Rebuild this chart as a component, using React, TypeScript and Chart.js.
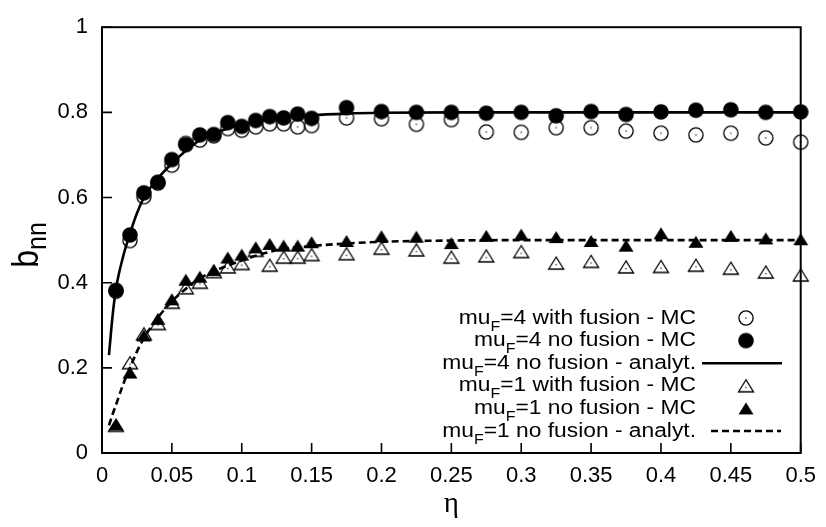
import React, { useEffect, useRef } from 'react';
import { Chart, registerables } from 'chart.js';

Chart.register(...registerables);

const FONT = '"Liberation Sans", Arial, sans-serif';

const xTickValues = [0, 0.05, 0.1, 0.15, 0.2, 0.25, 0.3, 0.35, 0.4, 0.45, 0.5];
const xTickLabels = ['0', '0.05', '0.1', '0.15', '0.2', '0.25', '0.3', '0.35', '0.4', '0.45', '0.5'];
const yTickValues = [0, 0.2, 0.4, 0.6, 0.8, 1];
const yTickLabels = ['0', '0.2', '0.4', '0.6', '0.8', '1'];

const xTitle = 'η';
const yTitleMain = 'b';
const yTitleSub = 'nn';

// Monte Carlo eta values
const etaMC = [0.01, 0.02, 0.03, 0.04, 0.05, 0.06, 0.07, 0.08, 0.09, 0.1, 0.11, 0.12, 0.13, 0.14, 0.15,
  0.175, 0.2, 0.225, 0.25, 0.275, 0.3, 0.325, 0.35, 0.375, 0.4, 0.425, 0.45, 0.475, 0.5];

const mu4FusionMC = [0.38, 0.499, 0.602, 0.634, 0.676, 0.727, 0.735, 0.745, 0.762, 0.758, 0.766, 0.773, 0.773, 0.766, 0.769,
  0.787, 0.785, 0.772, 0.783, 0.754, 0.753, 0.764, 0.764, 0.756, 0.751, 0.747, 0.751, 0.74, 0.73];

const mu4NoFusionMC = [0.382, 0.512, 0.611, 0.636, 0.689, 0.724, 0.747, 0.748, 0.776, 0.767, 0.781, 0.79, 0.787, 0.796, 0.786,
  0.811, 0.802, 0.8, 0.8, 0.798, 0.8, 0.792, 0.802, 0.795, 0.801, 0.805, 0.806, 0.8, 0.801];

const mu1FusionMC = [0.065, 0.212, 0.28, 0.304, 0.354, 0.388, 0.401, 0.426, 0.437, 0.445, 0.476, 0.441, 0.46, 0.46, 0.466,
  0.468, 0.481, 0.477, 0.46, 0.463, 0.473, 0.446, 0.45, 0.437, 0.438, 0.441, 0.434, 0.425, 0.418];

const mu1NoFusionMC = [0.067, 0.189, 0.276, 0.315, 0.361, 0.407, 0.414, 0.43, 0.459, 0.466, 0.483, 0.491, 0.487, 0.487, 0.495,
  0.498, 0.509, 0.508, 0.493, 0.51, 0.513, 0.507, 0.498, 0.487, 0.516, 0.496, 0.51, 0.504, 0.502];

// Analytic curves
const etaAnalyt4 = [0.005, 0.0075, 0.01, 0.015, 0.02, 0.025, 0.03, 0.04, 0.05, 0.06, 0.07, 0.08, 0.09, 0.1, 0.12, 0.15, 0.175, 0.2, 0.25, 0.3, 0.4, 0.5];
const mu4Analyt = [0.23, 0.32, 0.385, 0.46, 0.515, 0.563, 0.6, 0.645, 0.68, 0.71, 0.735, 0.75, 0.762, 0.772, 0.784, 0.793, 0.797, 0.799, 0.8, 0.8, 0.8, 0.8];

const etaAnalyt1 = [0.005, 0.0075, 0.01, 0.015, 0.02, 0.025, 0.03, 0.04, 0.05, 0.06, 0.07, 0.08, 0.09, 0.1, 0.11, 0.125, 0.15, 0.175, 0.2, 0.25, 0.3, 0.4, 0.5];
const mu1Analyt = [0.065, 0.09, 0.113, 0.16, 0.2, 0.238, 0.27, 0.318, 0.356, 0.386, 0.41, 0.427, 0.44, 0.452, 0.463, 0.476, 0.486, 0.492, 0.496, 0.499, 0.5, 0.5, 0.5];

const legendLabels = [
  'mu_F=4 with fusion - MC',
  'mu_F=4 no fusion - MC',
  'mu_F=4 no fusion - analyt.',
  'mu_F=1 with fusion - MC',
  'mu_F=1 no fusion - MC',
  'mu_F=1 no fusion - analyt.',
];

type MarkerKind = 'openCircle' | 'filledCircle' | 'openTriangle' | 'filledTriangle';

function makeMarker(kind: MarkerKind): HTMLCanvasElement {
  const c = document.createElement('canvas');
  c.width = 20;
  c.height = 20;
  const g = c.getContext('2d')!;
  g.strokeStyle = '#000';
  g.fillStyle = '#000';
  g.lineWidth = 1.3;
  const cx = 10, cy = 10;
  if (kind === 'openCircle' || kind === 'filledCircle') {
    g.beginPath();
    if (kind === 'filledCircle') {
      g.arc(cx, cy, 7.8, 0, Math.PI * 2);
      g.fill();
    } else {
      g.arc(cx, cy, 7.1, 0, Math.PI * 2);
      g.stroke();
      g.fillRect(cx - 0.6, cy - 0.6, 1.2, 1.2);
    }
  } else {
    g.beginPath();
    g.moveTo(cx, cy - 6);
    g.lineTo(cx - 7.5, cy + 6);
    g.lineTo(cx + 7.5, cy + 6);
    g.closePath();
    if (kind === 'filledTriangle') {
      g.fill();
    } else {
      g.stroke();
      g.fillRect(cx - 0.6, cy + 1, 1.2, 1.2);
    }
  }
  return c;
}

function toPoints(xs: number[], ys: number[]) {
  return xs.map((x, i) => ({ x, y: ys[i] }));
}

export default function App() {
  const ref = useRef<HTMLCanvasElement | null>(null);

  useEffect(() => {
    const canvas = ref.current;
    if (!canvas) return;
    const markers = {
      openCircle: makeMarker('openCircle'),
      filledCircle: makeMarker('filledCircle'),
      openTriangle: makeMarker('openTriangle'),
      filledTriangle: makeMarker('filledTriangle'),
    };

    const framePlugin = {
      id: 'frame',
      beforeDraw(chart: any) {
        const ctx = chart.ctx;
        ctx.save();
        ctx.fillStyle = '#fff';
        ctx.fillRect(0, 0, chart.width, chart.height);
        ctx.restore();
      },
      beforeDatasetsDraw(chart: any) {
        const ctx = chart.ctx;
        const { left, right, top, bottom } = chart.chartArea;
        const xs = chart.scales.x;
        const ys = chart.scales.y;
        ctx.save();
        ctx.strokeStyle = '#000';
        ctx.lineWidth = 1.6;
        ctx.beginPath();
        xTickValues.forEach((v) => {
          const px = xs.getPixelForValue(v);
          ctx.moveTo(px, bottom);
          ctx.lineTo(px, bottom - 10);
        });
        yTickValues.forEach((v) => {
          const py = ys.getPixelForValue(v);
          ctx.moveTo(left, py);
          ctx.lineTo(left + 10, py);
        });
        ctx.stroke();
        ctx.lineWidth = 2;
        ctx.strokeRect(left, top, right - left, bottom - top);
        ctx.restore();
      },
      afterDraw(chart: any) {
        const ctx = chart.ctx;
        const { left, right } = chart.chartArea;
        const SX = 1.14; // horizontal stretch of the reference lettering
        ctx.save();
        ctx.fillStyle = '#000';
        // x title
        ctx.font = '29px "Liberation Serif", serif';
        ctx.textAlign = 'center';
        ctx.textBaseline = 'alphabetic';
        ctx.fillText(xTitle, (left + right) / 2, 512);
        // y title
        ctx.save();
        ctx.translate(38, 245);
        ctx.scale(SX, 1);
        ctx.rotate(-Math.PI / 2);
        ctx.font = `32px ${FONT}`;
        const wb = ctx.measureText(yTitleMain).width;
        ctx.font = `25px ${FONT}`;
        const wn = ctx.measureText(yTitleSub).width;
        const start = -(wb + wn) / 2;
        ctx.textAlign = 'left';
        ctx.font = `32px ${FONT}`;
        ctx.fillText(yTitleMain, start, 0);
        ctx.font = `25px ${FONT}`;
        ctx.fillText(yTitleSub, start + wb, 7);
        ctx.restore();

        // legend
        const rightX = 696;
        const symX = 746;
        const base0 = 323.5;
        const step = 22.6;
        const mainFont = `20px ${FONT}`;
        const subFont = `14px ${FONT}`;
        legendLabels.forEach((lab, i) => {
          const [pre, post] = lab.split('_F');
          const by = base0 + i * step;
          ctx.font = mainFont;
          const wPre = ctx.measureText(pre).width;
          const wPost = ctx.measureText(post).width;
          ctx.font = subFont;
          const wSub = ctx.measureText('F').width;
          const total = (wPre + wSub + wPost) * SX;
          ctx.save();
          ctx.translate(rightX - total, by);
          ctx.scale(SX, 1);
          ctx.textAlign = 'left';
          ctx.textBaseline = 'alphabetic';
          ctx.font = mainFont;
          ctx.fillText(pre, 0, 0);
          ctx.font = subFont;
          ctx.fillText('F', wPre, 7);
          ctx.font = mainFont;
          ctx.fillText(post, wPre + wSub, 0);
          ctx.restore();
          const cy = by - 5.5;
          const ds = chart.data.datasets[i];
          if (ds.showLine) {
            const dashed = (ds.borderDash || []).length > 0;
            ctx.save();
            ctx.strokeStyle = '#000';
            ctx.lineWidth = ds.borderWidth;
            ctx.setLineDash(ds.borderDash || []);
            ctx.beginPath();
            ctx.moveTo(dashed ? 711 : 702, cy);
            ctx.lineTo(dashed ? 781 : 782, cy);
            ctx.stroke();
            ctx.restore();
          } else {
            const img = ds.pointStyle as HTMLCanvasElement;
            ctx.drawImage(img, symX - img.width / 2, cy - img.height / 2);
          }
        });
        ctx.restore();
      },
    };

    const chart = new Chart(canvas, {
      type: 'scatter',
      data: {
        datasets: [
          {
            label: legendLabels[0],
            data: toPoints(etaMC, mu4FusionMC),
            pointStyle: markers.openCircle,
            pointRadius: 7,
            showLine: false,
            clip: false,
            order: 5,
          },
          {
            label: legendLabels[1],
            data: toPoints(etaMC, mu4NoFusionMC),
            pointStyle: markers.filledCircle,
            pointRadius: 7,
            showLine: false,
            clip: false,
            order: 4,
          },
          {
            label: legendLabels[2],
            data: toPoints(etaAnalyt4, mu4Analyt),
            showLine: true,
            borderColor: '#000',
            borderWidth: 2.6,
            pointRadius: 0,
            cubicInterpolationMode: 'monotone',
            fill: false,
            order: 1,
          },
          {
            label: legendLabels[3],
            data: toPoints(etaMC, mu1FusionMC),
            pointStyle: markers.openTriangle,
            pointRadius: 7,
            showLine: false,
            clip: false,
            order: 3,
          },
          {
            label: legendLabels[4],
            data: toPoints(etaMC, mu1NoFusionMC),
            pointStyle: markers.filledTriangle,
            pointRadius: 7,
            showLine: false,
            clip: false,
            order: 2,
          },
          {
            label: legendLabels[5],
            data: toPoints(etaAnalyt1, mu1Analyt),
            showLine: true,
            borderColor: '#000',
            borderWidth: 2.6,
            borderDash: [7, 4],
            pointRadius: 0,
            cubicInterpolationMode: 'monotone',
            fill: false,
            order: 0,
          },
        ] as any,
      },
      options: {
        responsive: false,
        animation: false,
        devicePixelRatio: 1,
        events: [],
        layout: { padding: { top: 16, right: 16, left: 0, bottom: 0 } },
        plugins: {
          legend: { display: false },
          tooltip: { enabled: false },
          title: { display: false },
        },
        scales: {
          x: {
            type: 'linear',
            min: 0,
            max: 0.5,
            afterBuildTicks: (s: any) => {
              s.ticks = xTickValues.map((v) => ({ value: v }));
            },
            afterFit: (s: any) => {
              s.height = 74;
            },
            ticks: {
              callback: (_v: any, i: number) => xTickLabels[i],
              color: '#000',
              font: { size: 22, family: FONT },
              padding: 10,
              maxRotation: 0,
              minRotation: 0,
              autoSkip: false,
            },
            grid: { display: false, drawTicks: false },
            border: { display: false },
          },
          y: {
            type: 'linear',
            min: 0,
            max: 1,
            afterBuildTicks: (s: any) => {
              s.ticks = yTickValues.map((v) => ({ value: v }));
            },
            afterFit: (s: any) => {
              s.width = 102;
            },
            ticks: {
              callback: (_v: any, i: number) => yTickLabels[i],
              color: '#000',
              font: { size: 22, family: FONT },
              padding: 14,
              autoSkip: false,
            },
            grid: { display: false, drawTicks: false },
            border: { display: false },
          },
        },
      } as any,
      plugins: [framePlugin],
    });

    return () => chart.destroy();
  }, []);

  return (
    <div style={{ position: 'absolute', left: 0, top: 0, width: 826, height: 527 }}>
      <canvas ref={ref} width={826} height={527} style={{ display: 'block', width: 826, height: 527 }} />
    </div>
  );
}
